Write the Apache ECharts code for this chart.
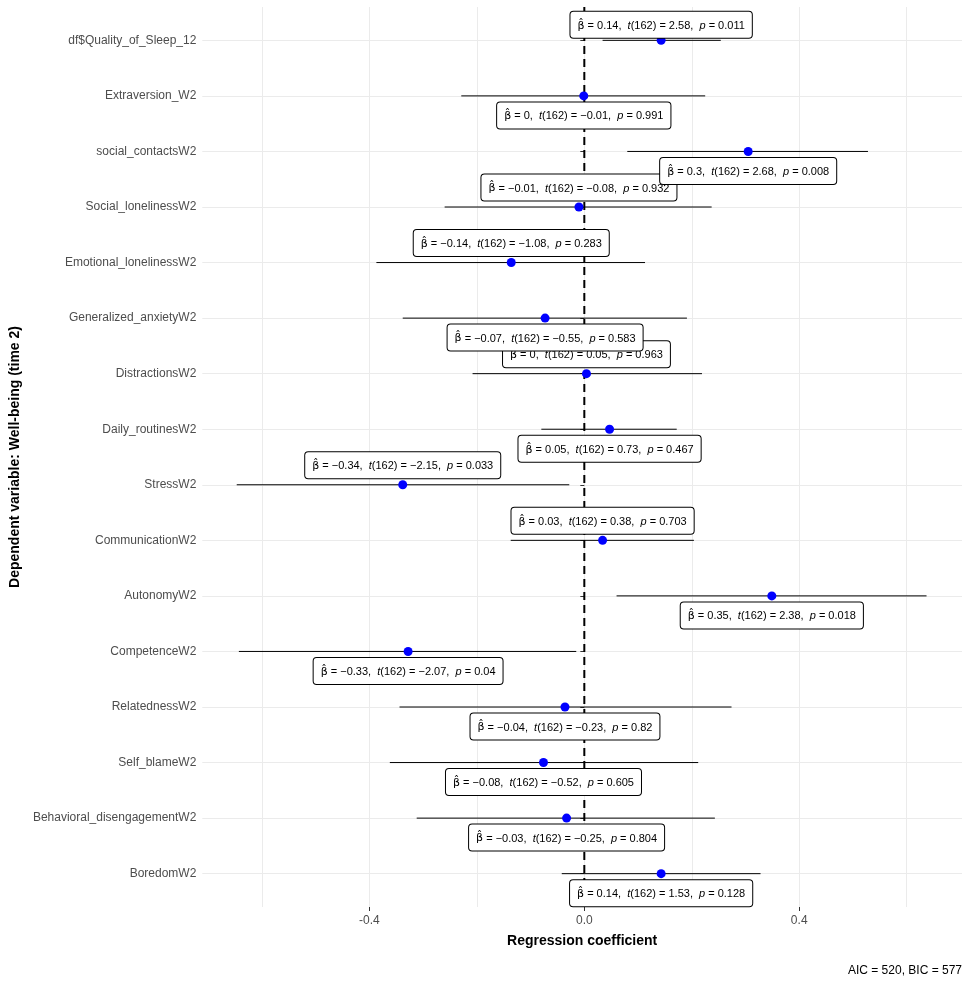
<!DOCTYPE html>
<html><head><meta charset="utf-8">
<script src="https://cdn.jsdelivr.net/npm/echarts@6/dist/echarts.min.js"></script>
<style>html,body{margin:0;padding:0;background:#fff}#c{width:970px;height:991px}</style>
</head><body><div id="c"></div>
<script>
const categories = ['df$Quality_of_Sleep_12','Extraversion_W2','social_contactsW2','Social_lonelinessW2','Emotional_lonelinessW2','Generalized_anxietyW2','DistractionsW2','Daily_routinesW2','StressW2','CommunicationW2','AutonomyW2','CompetenceW2','RelatednessW2','Self_blameW2','Behavioral_disengagementW2','BoredomW2'];
const estimates = [0.143, -0.001, 0.305, -0.010, -0.136, -0.073, 0.004, 0.047, -0.338, 0.034, 0.349, -0.328, -0.036, -0.076, -0.033, 0.143];
const ciLow  = [0.034, -0.229, 0.080, -0.260, -0.387, -0.338, -0.208, -0.080, -0.647, -0.137, 0.060, -0.643, -0.344, -0.362, -0.312, -0.042];
const ciHigh = [0.254, 0.225, 0.528, 0.237, 0.113, 0.191, 0.219, 0.172, -0.028, 0.204, 0.637, -0.015, 0.274, 0.212, 0.243, 0.328];
const tValues = [2.58, -0.01, 2.68, -0.08, -1.08, -0.55, 0.05, 0.73, -2.15, 0.38, 2.38, -2.07, -0.23, -0.52, -0.25, 1.53];
const pValues = [0.011, 0.991, 0.008, 0.932, 0.283, 0.583, 0.963, 0.467, 0.033, 0.703, 0.018, 0.04, 0.82, 0.605, 0.804, 0.128];
const labelSide = ['top','bottom','bottom','top','top','bottom','top','bottom','top','top','bottom','bottom','bottom','bottom','bottom','bottom'];
const labelGap = [-2, 2, 2, 2, 2, 2, 2, 2, 2, 2, 2, 2, 2, 2, 2, 2];
const xGridBreaks = [-0.6, -0.4, -0.2, 0, 0.2, 0.4, 0.6];
const xTickBreaks = [-0.4, 0, 0.4];
const referenceX = [0];
const yTickIdx = categories.map((c, i) => i);
const dfResid = 162;
const aicVal = 520, bicVal = 577;

const FONT = 'Liberation Sans, Arial, sans-serif';
const X_MIN = -0.711, X_MAX = 0.703, Y_MIN = -0.6, Y_MAX = 15.6;
function fmt(v, d) {
  let s = String(Number(v.toFixed(d)));
  if (s === '-0') s = '0';
  return s.replace('-', '\u2212');
}
function labelText(i) {
  return '{b|\u03B2\u0302}{n| = ' + fmt(estimates[i], 2) + ',  }{i|t}{n|(' + dfResid + ') = ' + fmt(tValues[i], 2) +
    ',  }{i|p}{n| = ' + fmt(pValues[i], 3) + '}';
}

const chart = echarts.init(document.getElementById('c'), null, {renderer: 'canvas'});
const order = yTickIdx.slice().reverse();

chart.setOption({
  animation: false,
  backgroundColor: '#fff',
  grid: {left: 202, right: 8, top: 7, bottom: 84},
  xAxis: [{
    type: 'value', min: X_MIN, max: X_MAX,
    name: 'Regression coefficient', nameLocation: 'middle', nameGap: 27,
    nameTextStyle: {fontFamily: FONT, fontSize: 14, fontWeight: 'bold', color: '#000'},
    axisLine: {show: false},
    axisTick: {show: false, customValues: xGridBreaks},
    axisLabel: {customValues: xTickBreaks, formatter: v => v.toFixed(1), color: '#4D4D4D', fontFamily: FONT, fontSize: 12, margin: 8},
    splitLine: {show: true, lineStyle: {color: '#EBEBEB', width: 1}}
  }, {
    type: 'value', min: X_MIN, max: X_MAX, position: 'bottom',
    axisLine: {show: false},
    axisTick: {show: true, customValues: xTickBreaks, length: 4, lineStyle: {color: '#333'}},
    axisLabel: {show: false},
    splitLine: {show: false}
  }],
  yAxis: {
    type: 'value', inverse: true, min: Y_MIN, max: Y_MAX,
    name: 'Dependent variable: Well-being (time 2)', nameLocation: 'middle', nameGap: 179,
    nameTextStyle: {fontFamily: FONT, fontSize: 14, fontWeight: 'bold', color: '#000'},
    axisLine: {show: false},
    axisTick: {show: true, customValues: yTickIdx, length: 4, lineStyle: {color: '#333'}},
    axisLabel: {customValues: yTickIdx, formatter: v => categories[Math.round(v)] || '', color: '#4D4D4D', fontFamily: FONT, fontSize: 12, margin: 6},
    splitLine: {show: true, lineStyle: {color: '#EBEBEB', width: 1}}
  },
  series: [{
    type: 'custom', xAxisIndex: 0, z: 2, silent: true,
    data: referenceX.map(v => [v]),
    encode: {x: 0},
    renderItem: (params, api) => {
      const a = api.coord([api.value(0), Y_MIN]);
      const b = api.coord([api.value(0), Y_MAX]);
      return {type: 'line', shape: {x1: a[0], y1: a[1], x2: b[0], y2: b[1]},
        style: {stroke: '#000', lineWidth: 2, lineDash: [8, 5]}};
    }
  }, {
    type: 'custom', xAxisIndex: 0, z: 2, silent: true,
    data: categories.map((c, i) => [ciLow[i], ciHigh[i], i]),
    encode: {x: [0, 1], y: 2},
    renderItem: (params, api) => {
      const a = api.coord([api.value(0), api.value(2)]);
      const b = api.coord([api.value(1), api.value(2)]);
      return {type: 'line', shape: {x1: a[0], y1: a[1], x2: b[0], y2: b[1]}, style: {stroke: '#000', lineWidth: 1}};
    }
  }, {
    type: 'scatter', xAxisIndex: 0, z: 4,
    symbol: 'circle', symbolSize: 9,
    itemStyle: {color: '#0000FF', opacity: 1},
    data: order.map(i => ({
      value: [estimates[i], i],
      label: {position: labelSide[i], distance: labelGap[i]}
    })),
    label: {
      show: true, distance: 2,
      formatter: p => labelText(p.value[1]),
      backgroundColor: '#fff', borderColor: '#000', borderWidth: 1, borderRadius: 3,
      padding: [5, 7, 3, 7],
      rich: {
        n: {fontFamily: FONT, fontSize: 11, color: '#000', lineHeight: 18},
        i: {fontFamily: FONT, fontSize: 11, fontStyle: 'italic', color: '#000', lineHeight: 18},
        b: {fontFamily: 'DejaVu Sans', fontSize: 11, color: '#000', lineHeight: 18}
      }
    }
  }],
  graphic: [{
    type: 'text', right: 8, top: 965,
    style: {text: 'AIC = ' + aicVal + ', BIC = ' + bicVal, font: '12px ' + FONT, fill: '#000'}
  }]
});
</script></body></html>
